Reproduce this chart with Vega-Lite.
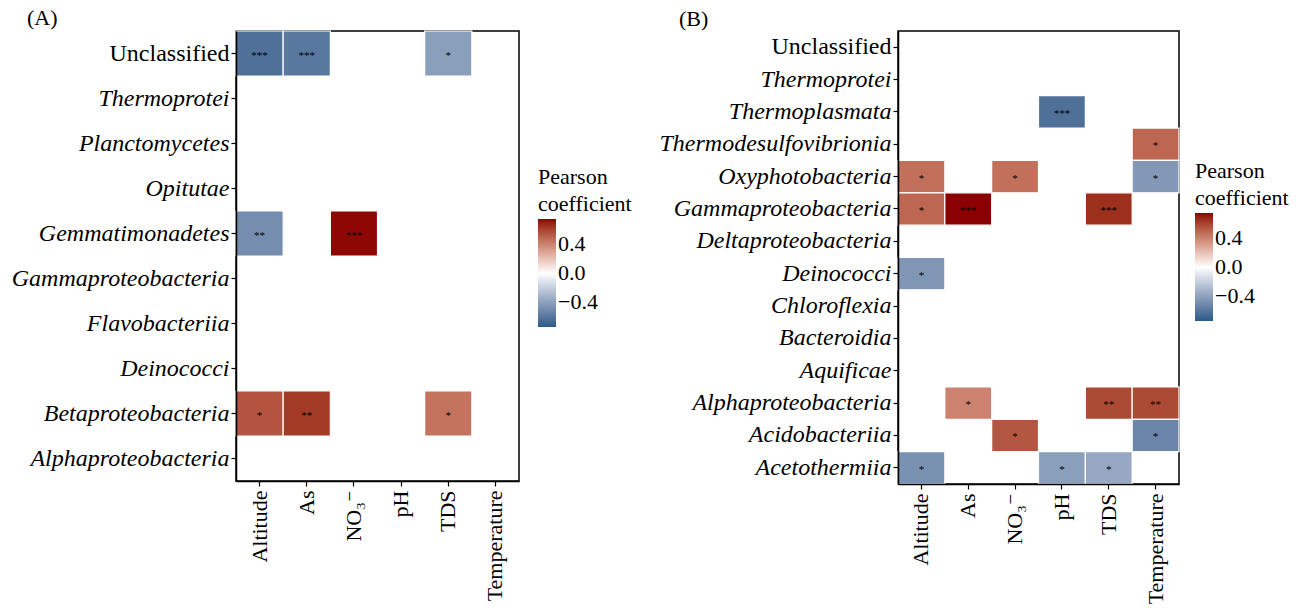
{
  "$schema": "https://vega.github.io/schema/vega-lite/v6.json",
  "padding": {"left": 10, "top": 6, "right": 0, "bottom": 0},
  "background": "white",
  "config": {
    "font": "Liberation Serif",
    "view": {"stroke": "black", "strokeWidth": 1.5},
    "axis": {
      "domainColor": "black", "domainWidth": 1.5, "tickColor": "black", "tickSize": 5, "tickWidth": 1.2,
      "labelFont": "Liberation Serif, DejaVu Serif", "labelColor": "black", "grid": false, "title": null
    },
    "legend": {
      "titleFont": "Liberation Serif", "titleFontSize": 22, "titleFontWeight": "normal", "titleColor": "black",
      "titleLineHeight": 27, "titlePadding": 3, "labelFont": "Liberation Serif", "labelFontSize": 22,
      "labelColor": "black", "gradientLength": 108, "gradientThickness": 18, "labelOffset": 3
    },
    "title": {"font": "Liberation Serif", "fontSize": 22, "fontWeight": "normal", "color": "black", "anchor": "start", "frame": "group"}
  },
  "datasets": {
    "a": [
      {"taxon": "Unclassified", "var": "Altitude", "r": -0.64, "sig": "***"},
      {"taxon": "Unclassified", "var": "As", "r": -0.6, "sig": "***"},
      {"taxon": "Unclassified", "var": "TDS", "r": -0.42, "sig": "*"},
      {"taxon": "Gemmatimonadetes", "var": "Altitude", "r": -0.5, "sig": "**"},
      {"taxon": "Gemmatimonadetes", "var": "NO₃⁻", "r": 0.74, "sig": "***"},
      {"taxon": "Betaproteobacteria", "var": "Altitude", "r": 0.55, "sig": "*"},
      {"taxon": "Betaproteobacteria", "var": "As", "r": 0.63, "sig": "**"},
      {"taxon": "Betaproteobacteria", "var": "TDS", "r": 0.45, "sig": "*"}
    ],
    "b": [
      {"taxon": "Thermoplasmata", "var": "pH", "r": -0.64, "sig": "***"},
      {"taxon": "Thermodesulfovibrionia", "var": "Temperature", "r": 0.49, "sig": "*"},
      {"taxon": "Oxyphotobacteria", "var": "Altitude", "r": 0.46, "sig": "*"},
      {"taxon": "Oxyphotobacteria", "var": "NO₃⁻", "r": 0.46, "sig": "*"},
      {"taxon": "Oxyphotobacteria", "var": "Temperature", "r": -0.45, "sig": "*"},
      {"taxon": "Gammaproteobacteria", "var": "Altitude", "r": 0.49, "sig": "*"},
      {"taxon": "Gammaproteobacteria", "var": "As", "r": 0.75, "sig": "***"},
      {"taxon": "Gammaproteobacteria", "var": "TDS", "r": 0.66, "sig": "***"},
      {"taxon": "Deinococci", "var": "Altitude", "r": -0.46, "sig": "*"},
      {"taxon": "Alphaproteobacteria", "var": "As", "r": 0.4, "sig": "*"},
      {"taxon": "Alphaproteobacteria", "var": "TDS", "r": 0.58, "sig": "**"},
      {"taxon": "Alphaproteobacteria", "var": "Temperature", "r": 0.58, "sig": "**"},
      {"taxon": "Acidobacteriia", "var": "NO₃⁻", "r": 0.54, "sig": "*"},
      {"taxon": "Acidobacteriia", "var": "Temperature", "r": -0.54, "sig": "*"},
      {"taxon": "Acetothermiia", "var": "Altitude", "r": -0.48, "sig": "*"},
      {"taxon": "Acetothermiia", "var": "pH", "r": -0.42, "sig": "*"},
      {"taxon": "Acetothermiia", "var": "TDS", "r": -0.38, "sig": "*"}
    ]
  },
  "resolve": {"scale": {"color": "independent", "x": "independent", "y": "independent"}, "legend": {"color": "independent"}},
  "spacing": 25,
  "hconcat": [
    {
      "title": {"text": "(A)", "dx": -209, "offset": 0},
      "width": 283,
      "height": 450,
      "data": {"name": "a"},
      "encoding": {
        "x": {"field": "var", "type": "nominal",
          "scale": {"domain": ["Altitude", "As", "NO₃⁻", "pH", "TDS", "Temperature"], "paddingInner": 0, "paddingOuter": 0},
          "axis": {"labelAngle": -90, "labelFontSize": 22, "labelPadding": 4, "minExtent": 120, "maxExtent": 130}},
        "y": {"field": "taxon", "type": "nominal",
          "scale": {"domain": ["Unclassified", "Thermoprotei", "Planctomycetes", "Opitutae", "Gemmatimonadetes", "Gammaproteobacteria", "Flavobacteriia", "Deinococci", "Betaproteobacteria", "Alphaproteobacteria"], "paddingInner": 0, "paddingOuter": 0},
          "axis": {"labelFontSize": 24, "labelPadding": 2, "minExtent": 224, "maxExtent": 224, "labelLimit": 300,
            "labelFontStyle": {"condition": {"test": "datum.value == 'Unclassified'", "value": "normal"}, "value": "italic"}}}
      },
      "layer": [
        {"mark": {"type": "rect", "stroke": "white", "strokeWidth": 1.2},
         "encoding": {"color": {"field": "r", "type": "quantitative",
           "scale": {"domain": [-0.75, 0, 0.75], "range": ["#2b5a88", "#ffffff", "#8b0000"], "interpolate": "lab"},
           "legend": {"title": ["Pearson", "coefficient"], "orient": "none", "legendX": 302, "legendY": 136,
             "values": [0.4, 0, -0.4], "labelExpr": "replace(format(datum.value, '.1f'), '-', '−')"}}}},
        {"mark": {"type": "text", "fontSize": 11, "color": "black", "baseline": "middle", "dy": 2},
         "encoding": {"text": {"field": "sig"}}}
      ]
    },
    {
      "title": {"text": "(B)", "dx": -219, "offset": 0},
      "width": 281,
      "height": 453,
      "data": {"name": "b"},
      "encoding": {
        "x": {"field": "var", "type": "nominal",
          "scale": {"domain": ["Altitude", "As", "NO₃⁻", "pH", "TDS", "Temperature"], "paddingInner": 0, "paddingOuter": 0},
          "axis": {"labelAngle": -90, "labelFontSize": 22, "labelPadding": 4, "minExtent": 120, "maxExtent": 130}},
        "y": {"field": "taxon", "type": "nominal",
          "scale": {"domain": ["Unclassified", "Thermoprotei", "Thermoplasmata", "Thermodesulfovibrionia", "Oxyphotobacteria", "Gammaproteobacteria", "Deltaproteobacteria", "Deinococci", "Chloroflexia", "Bacteroidia", "Aquificae", "Alphaproteobacteria", "Acidobacteriia", "Acetothermiia"], "paddingInner": 0, "paddingOuter": 0},
          "axis": {"labelFontSize": 24, "labelPadding": 2, "minExtent": 239, "maxExtent": 239, "labelLimit": 300,
            "labelFontStyle": {"condition": {"test": "datum.value == 'Unclassified'", "value": "normal"}, "value": "italic"}}}
      },
      "layer": [
        {"mark": {"type": "rect", "stroke": "white", "strokeWidth": 1.2},
         "encoding": {"color": {"field": "r", "type": "quantitative",
           "scale": {"domain": [-0.75, 0, 0.75], "range": ["#2b5a88", "#ffffff", "#8b0000"], "interpolate": "lab"},
           "legend": {"title": ["Pearson", "coefficient"], "orient": "none", "legendX": 297, "legendY": 130,
             "values": [0.4, 0, -0.4], "labelExpr": "replace(format(datum.value, '.1f'), '-', '−')"}}}},
        {"mark": {"type": "text", "fontSize": 11, "color": "black", "baseline": "middle", "dy": 2},
         "encoding": {"text": {"field": "sig"}}}
      ]
    }
  ]
}
